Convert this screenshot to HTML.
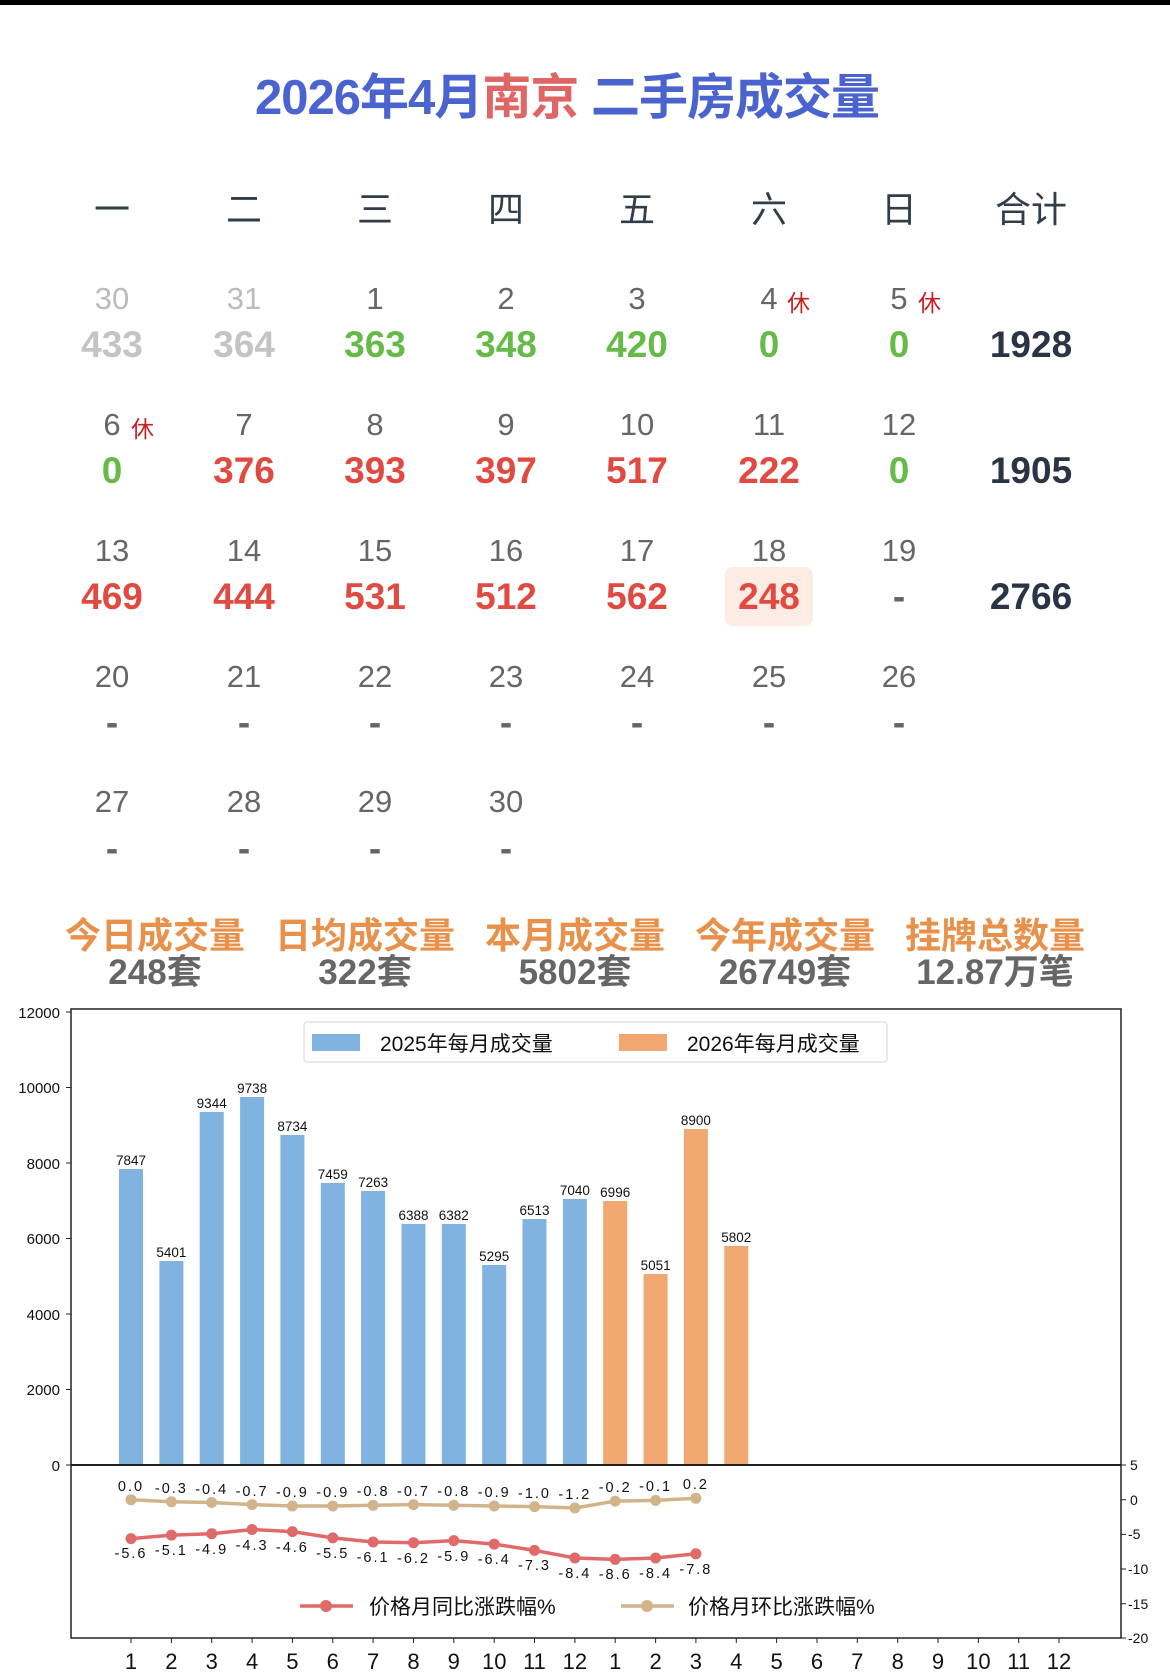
<!DOCTYPE html>
<html><head><meta charset="utf-8"><style>
html,body{margin:0;padding:0;background:#fff;width:1170px;height:1679px;overflow:hidden}
svg{display:block}
.cj{font-family:"Liberation Sans","Noto Sans CJK SC",sans-serif}
</style></head><body>
<svg width="1170" height="1679" viewBox="0 0 1170 1679" xmlns="http://www.w3.org/2000/svg" class="cj">
<rect x="0" y="0" width="1170" height="5" fill="#000"/>
<text x="567" y="114" text-anchor="middle" font-size="49" font-weight="bold" fill="#4a63cf" letter-spacing="-1">2026年4月<tspan fill="#e06565">南京</tspan> 二手房成交量</text>
<g font-size="36" fill="#333d4a" text-anchor="middle">
<text x="112" y="222">一</text><text x="244" y="222">二</text><text x="375" y="222">三</text><text x="506" y="222">四</text><text x="637" y="222">五</text><text x="769" y="222">六</text><text x="899" y="222">日</text><text x="1031" y="222">合计</text>
</g>
<g font-size="31" fill="#666" text-anchor="middle">
<text x="112" y="309" fill="#bbb">30</text><text x="244" y="309" fill="#bbb">31</text><text x="375" y="309">1</text><text x="506" y="309">2</text><text x="637" y="309">3</text><text x="769" y="309">4</text><text x="899" y="309">5</text>
<text x="112" y="435">6</text><text x="244" y="435">7</text><text x="375" y="435">8</text><text x="506" y="435">9</text><text x="637" y="435">10</text><text x="769" y="435">11</text><text x="899" y="435">12</text>
<text x="112" y="561">13</text><text x="244" y="561">14</text><text x="375" y="561">15</text><text x="506" y="561">16</text><text x="637" y="561">17</text><text x="769" y="561">18</text><text x="899" y="561">19</text>
<text x="112" y="687">20</text><text x="244" y="687">21</text><text x="375" y="687">22</text><text x="506" y="687">23</text><text x="637" y="687">24</text><text x="769" y="687">25</text><text x="899" y="687">26</text>
<text x="112" y="812">27</text><text x="244" y="812">28</text><text x="375" y="812">29</text><text x="506" y="812">30</text>
</g>
<g font-size="23" fill="#c62020">
<text x="787" y="311">休</text><text x="918" y="311">休</text><text x="131" y="437">休</text>
</g>
<rect x="725" y="567" width="88" height="59" rx="8" fill="#fcece4"/>
<g font-size="37" font-weight="bold" text-anchor="middle">
<text x="112" y="357" fill="#c4c4c4">433</text><text x="244" y="357" fill="#c4c4c4">364</text>
<text x="375" y="357" fill="#66bb48">363</text><text x="506" y="357" fill="#66bb48">348</text><text x="637" y="357" fill="#66bb48">420</text><text x="769" y="357" fill="#66bb48">0</text><text x="899" y="357" fill="#66bb48">0</text>
<text x="1031" y="357" fill="#2b3444">1928</text>
<text x="112" y="483" fill="#66bb48">0</text><text x="244" y="483" fill="#e04a40">376</text><text x="375" y="483" fill="#e04a40">393</text><text x="506" y="483" fill="#e04a40">397</text><text x="637" y="483" fill="#e04a40">517</text><text x="769" y="483" fill="#e04a40">222</text><text x="899" y="483" fill="#66bb48">0</text>
<text x="1031" y="483" fill="#2b3444">1905</text>
<text x="112" y="609" fill="#e04a40">469</text><text x="244" y="609" fill="#e04a40">444</text><text x="375" y="609" fill="#e04a40">531</text><text x="506" y="609" fill="#e04a40">512</text><text x="637" y="609" fill="#e04a40">562</text><text x="769" y="609" fill="#e04a40">248</text><text x="899" y="609" fill="#666">-</text>
<text x="1031" y="609" fill="#2b3444">2766</text>
<g fill="#666"><text x="112" y="735">-</text><text x="244" y="735">-</text><text x="375" y="735">-</text><text x="506" y="735">-</text><text x="637" y="735">-</text><text x="769" y="735">-</text><text x="899" y="735">-</text>
<text x="112" y="861">-</text><text x="244" y="861">-</text><text x="375" y="861">-</text><text x="506" y="861">-</text></g>
</g>
<g font-size="36" font-weight="bold" text-anchor="middle" fill="#e8914a">
<text x="155" y="948">今日成交量</text><text x="365" y="948">日均成交量</text><text x="575" y="948">本月成交量</text><text x="785" y="948">今年成交量</text><text x="995" y="948">挂牌总数量</text>
</g>
<g font-size="35" font-weight="bold" text-anchor="middle" fill="#666">
<text x="155" y="984">248套</text><text x="365" y="984">322套</text><text x="575" y="984">5802套</text><text x="785" y="984">26749套</text><text x="995" y="984">12.87万笔</text>
</g>
<!-- chart -->
<g fill="#80b3e0">
<rect x="119" y="1169" width="24" height="296"/><rect x="159.4" y="1261" width="24" height="204"/><rect x="199.7" y="1112" width="24" height="353"/><rect x="240.1" y="1097" width="24" height="368"/><rect x="280.4" y="1135" width="24" height="330"/><rect x="320.8" y="1183" width="24" height="282"/><rect x="361.1" y="1191" width="24" height="274"/><rect x="401.5" y="1224" width="24" height="241"/><rect x="441.8" y="1224" width="24" height="241"/><rect x="482.2" y="1265" width="24" height="200"/><rect x="522.5" y="1219" width="24" height="246"/><rect x="562.9" y="1199" width="24" height="266"/>
</g>
<g fill="#f0a870">
<rect x="603.2" y="1201" width="24" height="264"/><rect x="643.6" y="1274" width="24" height="191"/><rect x="683.9" y="1129" width="24" height="336"/><rect x="724.3" y="1246" width="24" height="219"/>
</g>
<g font-size="13.5" text-anchor="middle" fill="#111">
<text x="131" y="1165">7847</text><text x="171.4" y="1257">5401</text><text x="211.7" y="1108">9344</text><text x="252.1" y="1093">9738</text><text x="292.4" y="1131">8734</text><text x="332.8" y="1179">7459</text><text x="373.1" y="1187">7263</text><text x="413.5" y="1220">6388</text><text x="453.8" y="1220">6382</text><text x="494.2" y="1261">5295</text><text x="534.5" y="1215">6513</text><text x="574.9" y="1195">7040</text><text x="615.2" y="1197">6996</text><text x="655.6" y="1270">5051</text><text x="695.9" y="1125">8900</text><text x="736.3" y="1242">5802</text>
</g>
<rect x="71" y="1009" width="1050" height="629" fill="none" stroke="#222" stroke-width="1.5"/>
<line x1="71" y1="1465" x2="1121" y2="1465" stroke="#222" stroke-width="2"/>
<g stroke="#222" stroke-width="1">
<line x1="66" y1="1012" x2="71" y2="1012"/><line x1="66" y1="1087.5" x2="71" y2="1087.5"/><line x1="66" y1="1163" x2="71" y2="1163"/><line x1="66" y1="1238.5" x2="71" y2="1238.5"/><line x1="66" y1="1314" x2="71" y2="1314"/><line x1="66" y1="1389.5" x2="71" y2="1389.5"/><line x1="66" y1="1465" x2="71" y2="1465"/>
<line x1="1121" y1="1465" x2="1126" y2="1465"/><line x1="1121" y1="1499.7" x2="1126" y2="1499.7"/><line x1="1121" y1="1534.4" x2="1126" y2="1534.4"/><line x1="1121" y1="1569" x2="1126" y2="1569"/><line x1="1121" y1="1603.7" x2="1126" y2="1603.7"/><line x1="1121" y1="1638" x2="1126" y2="1638"/>
</g>
<g font-size="15" text-anchor="end" fill="#111">
<text x="60" y="1018">12000</text><text x="60" y="1093">10000</text><text x="60" y="1169">8000</text><text x="60" y="1244">6000</text><text x="60" y="1320">4000</text><text x="60" y="1395">2000</text><text x="60" y="1471">0</text>
</g>
<g font-size="14" fill="#111">
<text x="1130" y="1470">5</text><text x="1130" y="1505">0</text><text x="1128" y="1539">-5</text><text x="1128" y="1574">-10</text><text x="1128" y="1609">-15</text><text x="1128" y="1643">-20</text>
</g>
<!-- legend -->
<rect x="304" y="1022" width="583" height="40" rx="3" fill="#fff" stroke="#ddd" stroke-width="1.2"/>
<rect x="312" y="1034" width="48" height="17" fill="#80b3e0"/>
<text x="380" y="1051" font-size="21" fill="#111">2025年每月成交量</text>
<rect x="619" y="1034" width="48" height="17" fill="#f0a870"/>
<text x="687" y="1051" font-size="21" fill="#111">2026年每月成交量</text>
<!-- lines -->
<polyline fill="none" stroke="#d2b48c" stroke-width="3.5" points="131,1499.7 171.4,1501.8 211.7,1502.5 252.1,1504.6 292.4,1506 332.8,1506 373.1,1505.3 413.5,1504.6 453.8,1505.3 494.2,1506 534.5,1506.6 574.9,1508 615.2,1501.1 655.6,1500.4 695.9,1498.3"/>
<g fill="#d2b48c">
<circle cx="131" cy="1499.7" r="5.5"/><circle cx="171.4" cy="1501.8" r="5.5"/><circle cx="211.7" cy="1502.5" r="5.5"/><circle cx="252.1" cy="1504.6" r="5.5"/><circle cx="292.4" cy="1506" r="5.5"/><circle cx="332.8" cy="1506" r="5.5"/><circle cx="373.1" cy="1505.3" r="5.5"/><circle cx="413.5" cy="1504.6" r="5.5"/><circle cx="453.8" cy="1505.3" r="5.5"/><circle cx="494.2" cy="1506" r="5.5"/><circle cx="534.5" cy="1506.6" r="5.5"/><circle cx="574.9" cy="1508" r="5.5"/><circle cx="615.2" cy="1501.1" r="5.5"/><circle cx="655.6" cy="1500.4" r="5.5"/><circle cx="695.9" cy="1498.3" r="5.5"/>
</g>
<polyline fill="none" stroke="#e06a6a" stroke-width="3.5" points="131,1538.6 171.4,1535.1 211.7,1533.7 252.1,1529.5 292.4,1531.6 332.8,1537.9 373.1,1542 413.5,1542.7 453.8,1540.6 494.2,1544.1 534.5,1550.4 574.9,1558 615.2,1559.4 655.6,1558 695.9,1553.8"/>
<g fill="#e06a6a">
<circle cx="131" cy="1538.6" r="5.5"/><circle cx="171.4" cy="1535.1" r="5.5"/><circle cx="211.7" cy="1533.7" r="5.5"/><circle cx="252.1" cy="1529.5" r="5.5"/><circle cx="292.4" cy="1531.6" r="5.5"/><circle cx="332.8" cy="1537.9" r="5.5"/><circle cx="373.1" cy="1542" r="5.5"/><circle cx="413.5" cy="1542.7" r="5.5"/><circle cx="453.8" cy="1540.6" r="5.5"/><circle cx="494.2" cy="1544.1" r="5.5"/><circle cx="534.5" cy="1550.4" r="5.5"/><circle cx="574.9" cy="1558" r="5.5"/><circle cx="615.2" cy="1559.4" r="5.5"/><circle cx="655.6" cy="1558" r="5.5"/><circle cx="695.9" cy="1553.8" r="5.5"/>
</g>
<g font-size="14.5" text-anchor="middle" fill="#111" letter-spacing="2">
<text x="131" y="1491">0.0</text><text x="171.4" y="1493">-0.3</text><text x="211.7" y="1494">-0.4</text><text x="252.1" y="1496">-0.7</text><text x="292.4" y="1497">-0.9</text><text x="332.8" y="1497">-0.9</text><text x="373.1" y="1496">-0.8</text><text x="413.5" y="1496">-0.7</text><text x="453.8" y="1496">-0.8</text><text x="494.2" y="1497">-0.9</text><text x="534.5" y="1498">-1.0</text><text x="574.9" y="1499">-1.2</text><text x="615.2" y="1492">-0.2</text><text x="655.6" y="1491">-0.1</text><text x="695.9" y="1489">0.2</text>
<text x="131" y="1558">-5.6</text><text x="171.4" y="1555">-5.1</text><text x="211.7" y="1554">-4.9</text><text x="252.1" y="1550">-4.3</text><text x="292.4" y="1552">-4.6</text><text x="332.8" y="1558">-5.5</text><text x="373.1" y="1562">-6.1</text><text x="413.5" y="1563">-6.2</text><text x="453.8" y="1561">-5.9</text><text x="494.2" y="1564">-6.4</text><text x="534.5" y="1570">-7.3</text><text x="574.9" y="1578">-8.4</text><text x="615.2" y="1579">-8.6</text><text x="655.6" y="1578">-8.4</text><text x="695.9" y="1574">-7.8</text>
</g>
<!-- bottom legend -->
<line x1="300" y1="1606" x2="353" y2="1606" stroke="#e06a6a" stroke-width="3.5"/><circle cx="326" cy="1606" r="6" fill="#e06a6a"/>
<text x="369" y="1614" font-size="21" fill="#111">价格月同比涨跌幅%</text>
<line x1="621" y1="1606" x2="674" y2="1606" stroke="#d2b48c" stroke-width="3.5"/><circle cx="647" cy="1606" r="6" fill="#d2b48c"/>
<text x="688" y="1614" font-size="21" fill="#111">价格月环比涨跌幅%</text>
<!-- x ticks -->
<g stroke="#222" stroke-width="1">
<line x1="131" y1="1638" x2="131" y2="1643"/><line x1="171.4" y1="1638" x2="171.4" y2="1643"/><line x1="211.7" y1="1638" x2="211.7" y2="1643"/><line x1="252.1" y1="1638" x2="252.1" y2="1643"/><line x1="292.4" y1="1638" x2="292.4" y2="1643"/><line x1="332.8" y1="1638" x2="332.8" y2="1643"/><line x1="373.1" y1="1638" x2="373.1" y2="1643"/><line x1="413.5" y1="1638" x2="413.5" y2="1643"/><line x1="453.8" y1="1638" x2="453.8" y2="1643"/><line x1="494.2" y1="1638" x2="494.2" y2="1643"/><line x1="534.5" y1="1638" x2="534.5" y2="1643"/><line x1="574.9" y1="1638" x2="574.9" y2="1643"/><line x1="615.2" y1="1638" x2="615.2" y2="1643"/><line x1="655.6" y1="1638" x2="655.6" y2="1643"/><line x1="695.9" y1="1638" x2="695.9" y2="1643"/><line x1="736.3" y1="1638" x2="736.3" y2="1643"/><line x1="776.6" y1="1638" x2="776.6" y2="1643"/><line x1="817" y1="1638" x2="817" y2="1643"/><line x1="857.3" y1="1638" x2="857.3" y2="1643"/><line x1="897.7" y1="1638" x2="897.7" y2="1643"/><line x1="938" y1="1638" x2="938" y2="1643"/><line x1="978.4" y1="1638" x2="978.4" y2="1643"/><line x1="1018.7" y1="1638" x2="1018.7" y2="1643"/><line x1="1059" y1="1638" x2="1059" y2="1643"/>
</g>
<g font-size="22" text-anchor="middle" fill="#111">
<text x="131" y="1669">1</text><text x="171.4" y="1669">2</text><text x="211.7" y="1669">3</text><text x="252.1" y="1669">4</text><text x="292.4" y="1669">5</text><text x="332.8" y="1669">6</text><text x="373.1" y="1669">7</text><text x="413.5" y="1669">8</text><text x="453.8" y="1669">9</text><text x="494.2" y="1669">10</text><text x="534.5" y="1669">11</text><text x="574.9" y="1669">12</text><text x="615.2" y="1669">1</text><text x="655.6" y="1669">2</text><text x="695.9" y="1669">3</text><text x="736.3" y="1669">4</text><text x="776.6" y="1669">5</text><text x="817" y="1669">6</text><text x="857.3" y="1669">7</text><text x="897.7" y="1669">8</text><text x="938" y="1669">9</text><text x="978.4" y="1669">10</text><text x="1018.7" y="1669">11</text><text x="1059" y="1669">12</text>
</g>
</svg>
</body></html>
